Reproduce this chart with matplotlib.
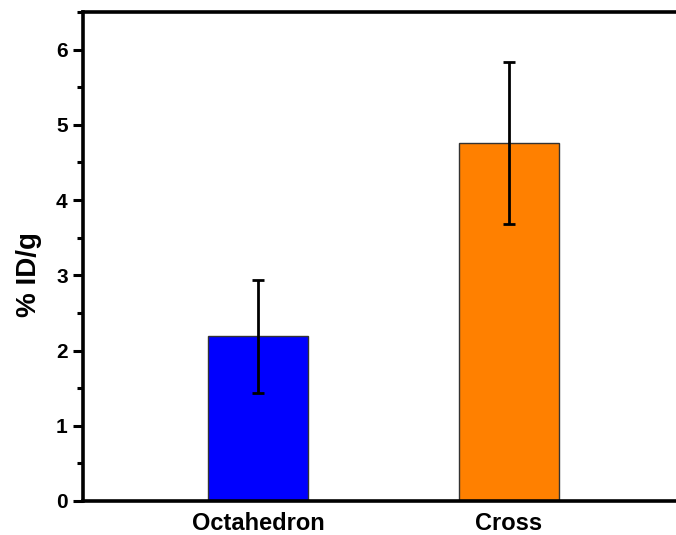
import matplotlib.pyplot as plt
from matplotlib.ticker import MultipleLocator

categories = ["Octahedron", "Cross"]
values = [2.19, 4.76]
errors = [0.75, 1.08]
colors = ["#0000FF", "#FF8000"]

plt.rcParams['font.family'] = ['Liberation Sans', 'DejaVu Sans']
plt.rcParams['font.weight'] = 'bold'

fig = plt.figure(figsize=(6.76, 5.35), dpi=100)
ax = fig.add_axes([83 / 676, 34 / 535, (676 - 83) / 676, (501 - 12) / 535])

x = [1, 2]
ax.bar(x, values, width=0.4, color=colors, edgecolor='#333333', linewidth=1, zorder=2)
ax.errorbar(x, values, yerr=errors, fmt='none', ecolor='black', elinewidth=2,
            capsize=4, capthick=2, zorder=3)

ax.set_xlim(0.303, 2.665)
ax.set_ylim(0, 6.5)
ax.set_xticks(x)
ax.set_xticklabels(categories, fontsize=17, fontweight='bold')
ax.yaxis.set_major_locator(MultipleLocator(1))
ax.yaxis.set_minor_locator(MultipleLocator(0.5))
ax.tick_params(axis='y', which='major', direction='out', length=7, width=2.2,
               labelsize=15, pad=4)
ax.tick_params(axis='y', which='minor', direction='out', length=4, width=2.2)
ax.tick_params(axis='x', length=0, pad=8)
for lab in ax.get_yticklabels():
    lab.set_fontweight('bold')

ax.set_ylabel("% ID/g", fontsize=20, fontweight='bold')
ax.yaxis.set_label_coords(-0.069, 0.464)

for side in ['left', 'top', 'bottom']:
    ax.spines[side].set_linewidth(2.6)
ax.spines['right'].set_visible(False)

plt.savefig("out.png", dpi=100)
plt.close()
